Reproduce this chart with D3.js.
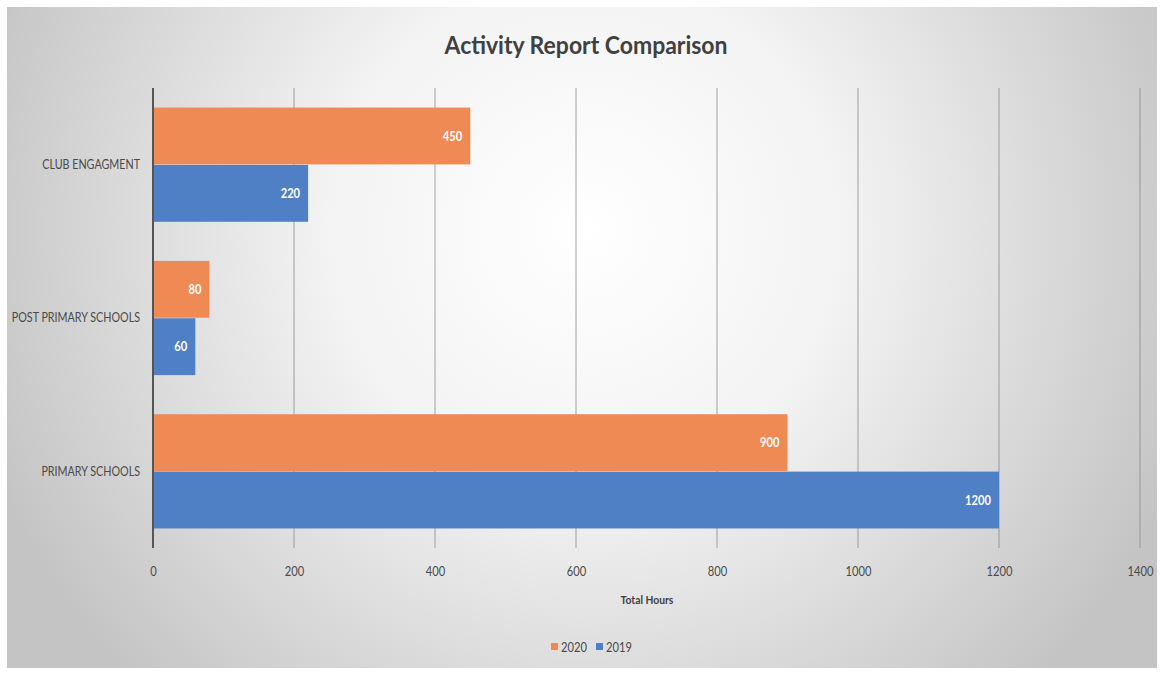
<!DOCTYPE html>
<html>
<head>
<meta charset="utf-8">
<script src="https://cdn.jsdelivr.net/npm/d3@7"></script>
<style>
  html, body { margin: 0; padding: 0; background: #fff; }
  svg { display: block; }
  text { font-family: Lato, "Open Sans", sans-serif; }
</style>
</head>
<body>
<script>
(function () {
  "use strict";
  var width = 1164, height = 673;

  // data
  var categories = ["CLUB ENGAGMENT", "POST PRIMARY SCHOOLS", "PRIMARY SCHOOLS"];
  var seriesNames = ["2020", "2019"];
  var values2020 = [450, 80, 900];
  var values2019 = [220, 60, 1200];
  var xTicks = [0, 200, 400, 600, 800, 1000, 1200, 1400];
  var colors = { "2020": "#ef8a55", "2019": "#4f7fc5" };

  var x = d3.scaleLinear().domain([0, 1400]).range([153, 1140]);
  var y = d3.scaleBand().domain(categories).range([88, 548]).paddingInner(0.255).paddingOuter(0.1275);
  var ySub = d3.scaleBand().domain(seriesNames).range([0, y.bandwidth()]).paddingInner(0.01);
  var narrow = 0.86; // squeeze to mimic a condensed face

  var svg = d3.select("body").append("svg")
    .attr("width", width)
    .attr("height", height);

  var defs = svg.append("defs");
  var grad = defs.append("radialGradient")
    .attr("id", "bg")
    .attr("gradientUnits", "userSpaceOnUse")
    .attr("cx", 585).attr("cy", 230).attr("r", 640);
  grad.append("stop").attr("offset", "0").attr("stop-color", "#ffffff");
  grad.append("stop").attr("offset", "0.4").attr("stop-color", "#f3f3f3");
  grad.append("stop").attr("offset", "1").attr("stop-color", "#c4c4c4");

  svg.append("rect")
    .attr("x", 7).attr("y", 7)
    .attr("width", 1150).attr("height", 661)
    .attr("fill", "url(#bg)");

  // title
  svg.append("text")
    .attr("x", 586).attr("y", 54)
    .attr("text-anchor", "middle")
    .attr("font-size", 25)
    .attr("font-weight", "bold")
    .attr("fill", "#404040")
    .attr("textLength", 283)
    .attr("lengthAdjust", "spacingAndGlyphs")
    .text("Activity Report Comparison");

  // gridlines
  svg.append("g")
    .selectAll("line")
    .data(xTicks.slice(1))
    .enter().append("line")
    .attr("x1", function (d) { return x(d); })
    .attr("x2", function (d) { return x(d); })
    .attr("y1", 88).attr("y2", 548)
    .attr("stroke", "#8c8c8c")
    .attr("stroke-width", 0.8);

  // bars
  var rows = categories.map(function (c, i) {
    return { cat: c, vals: [
      { s: "2020", v: values2020[i] },
      { s: "2019", v: values2019[i] }
    ] };
  });

  var group = svg.append("g").selectAll("g")
    .data(rows)
    .enter().append("g")
    .attr("transform", function (d) { return "translate(0," + y(d.cat) + ")"; });

  group.selectAll("rect")
    .data(function (d) { return d.vals; })
    .enter().append("rect")
    .attr("x", x(0))
    .attr("y", function (d) { return ySub(d.s); })
    .attr("width", function (d) { return x(d.v) - x(0); })
    .attr("height", ySub.bandwidth())
    .attr("fill", function (d) { return colors[d.s]; });

  group.selectAll("text")
    .data(function (d) { return d.vals; })
    .enter().append("text")
    .attr("transform", function (d) {
      return "translate(" + (x(d.v) - 8) + "," + (ySub(d.s) + ySub.bandwidth() / 2) + ") scale(" + narrow + ",1)";
    })
    .attr("dy", "0.35em")
    .attr("text-anchor", "end")
    .attr("font-size", 13)
    .attr("font-weight", "bold")
    .attr("fill", "#ffffff")
    .text(function (d) { return d.v; });

  // y axis line and category labels
  svg.append("line")
    .attr("x1", x(0)).attr("x2", x(0))
    .attr("y1", 88).attr("y2", 548)
    .attr("stroke", "#555555")
    .attr("stroke-width", 2);

  svg.append("g").selectAll("text")
    .data(categories)
    .enter().append("text")
    .attr("transform", function (d) {
      return "translate(140," + (y(d) + y.bandwidth() / 2) + ") scale(" + narrow + ",1)";
    })
    .attr("dy", "0.35em")
    .attr("text-anchor", "end")
    .attr("font-size", 12.5)
    .attr("fill", "#4a4a4a")
    .text(function (d) { return d; });

  // x axis tick labels
  var xAxis = d3.axisBottom(x).tickValues(xTicks).tickFormat(d3.format("d")).tickSize(0).tickPadding(0);
  var gx = svg.append("g")
    .attr("transform", "translate(0,567)")
    .call(xAxis);
  gx.select(".domain").remove();
  gx.selectAll("text")
    .attr("font-size", 13)
    .attr("fill", "#4a4a4a")
    .attr("transform", "scale(" + narrow + ",1)")
    .style("font-family", "Lato, 'Open Sans', sans-serif");

  svg.append("text")
    .attr("transform", "translate(647,604) scale(" + narrow + ",1)")
    .attr("text-anchor", "middle")
    .attr("font-size", 12)
    .attr("font-weight", "bold")
    .attr("fill", "#404040")
    .text("Total Hours");

  // legend
  var legend = svg.append("g").attr("transform", "translate(551,647)");
  var items = legend.selectAll("g")
    .data(seriesNames)
    .enter().append("g")
    .attr("transform", function (d, i) { return "translate(" + (i * 45) + ",0)"; });
  items.append("rect")
    .attr("x", 0).attr("y", -4)
    .attr("width", 7).attr("height", 7)
    .attr("fill", function (d) { return colors[d]; });
  items.append("text")
    .attr("transform", "translate(10,0) scale(" + narrow + ",1)")
    .attr("dy", "0.35em")
    .attr("font-size", 13)
    .attr("fill", "#4a4a4a")
    .text(function (d) { return d; });
})();
</script>
</body>
</html>
